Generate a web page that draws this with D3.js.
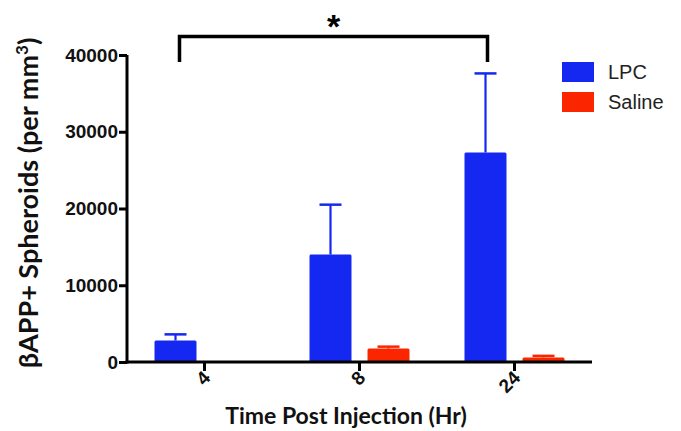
<!DOCTYPE html>
<html>
<head>
<meta charset="utf-8">
<script src="https://cdn.jsdelivr.net/npm/d3@7"></script>
<style>
  body { margin: 0; background: #fff; }
  svg { display: block; }
</style>
</head>
<body>
<svg id="chart" width="681" height="431"></svg>
<script>
// data
var timepoints = ["4", "8", "24"];
var seriesNames = ["LPC", "Saline"];
var lpcMeans = [2800, 14000, 27300];
var lpcErr = [800, 6500, 10300];
var salineMeans = [0, 1750, 600];
var salineErr = [0, 250, 200];
var yTicks = [0, 10000, 20000, 30000, 40000];
var colors = { LPC: "#1428f2", Saline: "#fb2600" };

var svg = d3.select("#chart");

var x0 = d3.scaleBand().domain(timepoints).range([127, 592]).padding(0);
var x1 = d3.scaleBand().domain(seriesNames).range([-50, 50]).paddingInner(0.276);
var y = d3.scaleLinear().domain([0, 40000]).range([362, 55]);

var rows = [];
timepoints.forEach(function(t, i) {
    rows.push({ t: t, s: "LPC", v: lpcMeans[i], e: lpcErr[i] });
    rows.push({ t: t, s: "Saline", v: salineMeans[i], e: salineErr[i] });
});

function cx(d) { return x0(d.t) + x0.bandwidth() / 2 + x1(d.s) + x1.bandwidth() / 2; }

// error bars (upper only) drawn under the bars
var eb = svg.append("g");
rows.filter(function(d) { return d.e > 0; }).forEach(function(d) {
    eb.append("line")
        .attr("x1", cx(d)).attr("x2", cx(d))
        .attr("y1", y(d.v)).attr("y2", y(d.v + d.e))
        .attr("stroke", colors[d.s]).attr("stroke-width", 2.2);
    eb.append("line")
        .attr("x1", cx(d) - 11).attr("x2", cx(d) + 11)
        .attr("y1", y(d.v + d.e)).attr("y2", y(d.v + d.e))
        .attr("stroke", colors[d.s]).attr("stroke-width", 2.5);
});

svg.append("g").selectAll("rect")
    .data(rows.filter(function(d) { return d.v > 0; }))
    .join("rect")
    .attr("x", function(d) { return x0(d.t) + x0.bandwidth() / 2 + x1(d.s); })
    .attr("y", function(d) { return y(d.v); })
    .attr("width", x1.bandwidth())
    .attr("height", function(d) { return y(0) - y(d.v); })
    .attr("rx", 1.5)
    .attr("fill", function(d) { return colors[d.s]; });

// axes
var yAxis = svg.append("g")
    .attr("transform", "translate(127,0)")
    .call(d3.axisLeft(y).tickValues(yTicks).tickSize(8).tickPadding(1).tickSizeOuter(0).tickFormat(d3.format("d")));
var xAxis = svg.append("g")
    .attr("transform", "translate(0,362)")
    .call(d3.axisBottom(x0).tickSize(9).tickSizeOuter(0));

[yAxis, xAxis].forEach(function(a) {
    a.selectAll("path, line").attr("stroke", "#000").attr("stroke-width", 3);
    a.selectAll("text").attr("fill", "#111")
        .style("font-family", "'Liberation Sans', Arial, sans-serif")
        .style("font-weight", "bold").style("font-size", "19px");
});
yAxis.select(".domain").attr("d", "M0," + y(40000) + "V" + (y(0) + 1.5));
xAxis.select(".domain").attr("d", "M" + (127 - 1.5) + ",0H592");
xAxis.selectAll("text")
    .attr("text-anchor", "end")
    .attr("dy", null)
    .attr("y", 0)
    .attr("transform", "translate(7,17) rotate(-45)");

// significance bracket between LPC at 4 h and LPC at 24 h
var bx1 = cx({ t: "4", s: "LPC" }) + 4, bx2 = cx({ t: "24", s: "LPC" }) + 2;
svg.append("path")
    .attr("d", "M" + bx1 + ",62V36.5H" + bx2 + "V62")
    .attr("fill", "none").attr("stroke", "#000").attr("stroke-width", 3.5);
svg.append("text")
    .attr("x", (bx1 + bx2) / 2).attr("y", 38)
    .attr("text-anchor", "middle")
    .style("font-family", "'Liberation Sans', Arial, sans-serif")
    .style("font-weight", "bold").style("font-size", "34px")
    .text("*");

// axis titles
svg.append("text")
    .attr("transform", "translate(38,203) rotate(-90)")
    .attr("text-anchor", "middle")
    .style("font-family", "Lato, 'Open Sans', sans-serif")
    .style("font-weight", "bold").style("font-size", "27px").attr("fill", "#111")
    .html("βAPP+ Spheroids (per mm<tspan dy='-10' font-size='17px'>3</tspan><tspan dy='10'>)</tspan>");
svg.append("text")
    .attr("x", 346).attr("y", 424)
    .attr("text-anchor", "middle")
    .style("font-family", "Lato, 'Open Sans', sans-serif")
    .style("font-weight", "bold").style("font-size", "23px").attr("fill", "#111")
    .text("Time Post Injection (Hr)");

// legend
var lg = svg.append("g").attr("transform", "translate(562,62)");
seriesNames.forEach(function(s, i) {
    lg.append("rect").attr("x", 0).attr("y", i * 30).attr("width", 32).attr("height", 20)
        .attr("fill", colors[s]);
    lg.append("text").attr("x", 46).attr("y", i * 30 + 17)
        .style("font-family", "'Liberation Sans', Arial, sans-serif")
        .style("font-size", "20px").attr("fill", "#222")
        .text(s);
});
</script>
</body>
</html>
